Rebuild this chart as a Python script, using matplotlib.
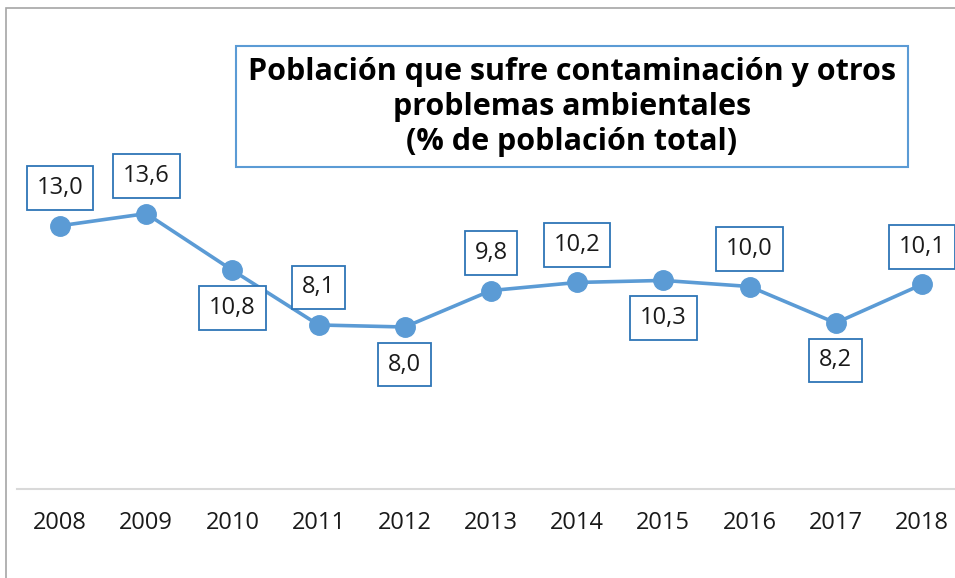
import matplotlib.pyplot as plt
import matplotlib.patches as mpatches

years = ['2008', '2009', '2010', '2011', '2012', '2013', '2014', '2015', '2016', '2017', '2018']
values = [13.0, 13.6, 10.8, 8.1, 8.0, 9.8, 10.2, 10.3, 10.0, 8.2, 10.1]
# label above (1) or below (-1) each point
label_side = [1, 1, -1, 1, -1, 1, 1, -1, 1, -1, 1]

line_blue = '#5B9BD5'
box_blue = '#2E75B6'

plt.rcParams['font.family'] = ['Open Sans', 'DejaVu Sans']

fig = plt.figure(figsize=(9.55, 5.78), dpi=100)

# outer chart border
fig.patches.append(mpatches.Rectangle((6 / 955, -0.1), 1.2, 1 - 8 / 578 + 0.1,
                                      transform=fig.transFigure, fill=False,
                                      edgecolor='#A6A6A6', linewidth=1.2))

ax = fig.add_axes([17 / 955, 89 / 578, 948 / 955, 324 / 578])
x = list(range(len(years)))
ax.plot(x, values, color=line_blue, linewidth=2.6, marker='o',
        markersize=14, zorder=3)

ax.set_xlim(-0.5, len(years) - 0.5)
ax.set_ylim(0, 16)
for s in ['top', 'right', 'left']:
    ax.spines[s].set_visible(False)
ax.spines['bottom'].set_color('#D9D9D9')
ax.spines['bottom'].set_linewidth(1.5)
ax.set_yticks([])
ax.set_xticks(x)
ax.set_xticklabels(years, fontsize=17, color='#1a1a1a')
ax.tick_params(axis='x', length=0, pad=16)
ax.patch.set_alpha(0)

for xi, v, side in zip(x, values, label_side):
    ax.annotate(f'{v:.1f}'.replace('.', ','), (xi, v),
                xytext=(0, 27 * side), textcoords='offset points',
                ha='center', va='center', fontsize=17, color='#1a1a1a',
                bbox=dict(boxstyle='square,pad=0.42', facecolor='white',
                          edgecolor=box_blue, linewidth=1.3),
                zorder=4)

fig.text(572 / 955, 1 - 107 / 578,
         'Población que sufre contaminación y otros\nproblemas ambientales\n(% de población total)',
         ha='center', va='center', fontsize=22, fontweight='bold',
         linespacing=1.22, color='black')
fig.patches.append(mpatches.Rectangle((236 / 955, 1 - 167 / 578), 672 / 955, 121 / 578,
                                      transform=fig.transFigure, fill=False,
                                      edgecolor=line_blue, linewidth=1.5))

fig.savefig('out.png', dpi=100)
